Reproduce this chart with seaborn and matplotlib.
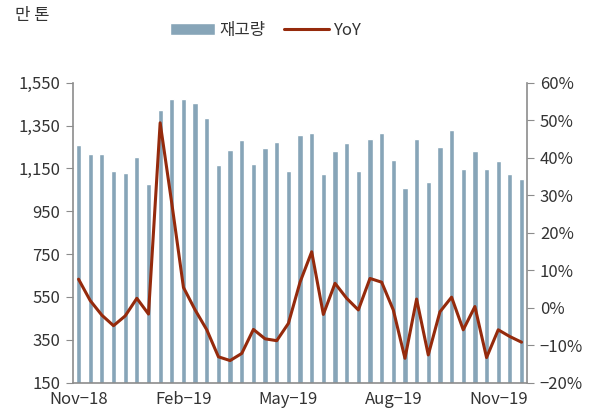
import numpy as np
import pandas as pd
import matplotlib
matplotlib.use("Agg")
import matplotlib.pyplot as plt
import seaborn as sns
from matplotlib.ticker import FuncFormatter, FixedLocator

# inventory (10k tons) and YoY (%)
stock = [1260, 1219, 1216, 1138, 1129, 1203, 1076, 1423, 1473, 1475,
         1457, 1387, 1165, 1236, 1284, 1171, 1247, 1272, 1138, 1304,
         1314, 1124, 1233, 1267, 1138, 1289, 1317, 1188, 1060, 1287,
         1085, 1249, 1329, 1149, 1230, 1149, 1183, 1124, 1102]
yoy = [7.6, 1.9, -2.0, -4.8, -2.2, 2.5, -1.7, 49.3, 27.8, 5.4,
       -0.6, -5.9, -13.1, -14.1, -12.2, -5.8, -8.3, -8.8, -4.2, 6.8,
       14.9, -1.8, 6.5, 2.5, -0.6, 7.8, 6.8, -0.6, -13.5, 2.3,
       -12.6, -1.1, 2.8, -5.9, 0.3, -13.3, -5.9, -7.7, -9.2]
tick_pos = [0, 9, 18, 27, 36]
tick_labels = ["Nov\u221218", "Feb\u221219", "May\u221219", "Aug\u221219", "Nov\u221219"]

df = pd.DataFrame({"idx": np.arange(len(stock)), "stock": stock, "yoy": yoy})

sns.set_style("white")
plt.rcParams["font.family"] = ["Noto Sans CJK KR", "DejaVu Sans"]
plt.rcParams["axes.unicode_minus"] = True

bar_color = "#87A5B8"
line_color = "#952A0C"
axis_color = "#8C8C8C"
text_color = "#333333"

fig = plt.figure(figsize=(5.99, 4.17), dpi=100)
ax = fig.add_axes([0.1214, 0.0823, 0.7590, 0.7194])

sns.barplot(data=df, x="idx", y="stock", color=bar_color, width=0.45,
            saturation=1, ax=ax, label="재고량")
ax.set_ylim(150, 1550)
ax.set_yticks(range(150, 1551, 200))
ax.yaxis.set_major_formatter(FuncFormatter(lambda v, p: f"{int(v):,}"))
ax.set_xlim(-0.5, len(stock) - 0.5)

ax2 = ax.twinx()
sns.lineplot(data=df, x="idx", y="yoy", color=line_color, linewidth=2.2,
             ax=ax2, label="YoY")
ax2.set_ylim(-20, 60)
ax2.set_yticks(range(-20, 61, 10))
ax2.yaxis.set_major_formatter(FuncFormatter(lambda v, p: f"{int(v)}%".replace("-", "\u2212")))
ax2.set_xlim(-0.5, len(stock) - 0.5)

ax.xaxis.set_major_locator(FixedLocator(tick_pos))
ax.set_xticklabels(tick_labels)
ax.xaxis.set_minor_locator(FixedLocator(np.arange(-0.5, len(stock), 1.0)))
ax.tick_params(axis="x", which="major", length=0, pad=6)
ax.tick_params(axis="x", which="minor", length=4, color=axis_color, direction="out")
ax.tick_params(axis="y", length=5, color=axis_color, direction="out", pad=4)
ax2.tick_params(axis="y", length=5, color=axis_color, direction="out", pad=4)

for a in (ax, ax2):
    a.set_xlabel("")
    a.set_ylabel("")
    a.tick_params(labelsize=12, labelcolor=text_color)
    for s in ("left", "right", "bottom"):
        a.spines[s].set_color(axis_color)
        a.spines[s].set_linewidth(1.2)
    a.spines["top"].set_visible(False)
ax.spines["right"].set_visible(False)
ax2.spines["left"].set_visible(False)
ax2.spines["bottom"].set_visible(False)

h1, l1 = ax.get_legend_handles_labels()
h2, l2 = ax2.get_legend_handles_labels()
if ax.get_legend():
    ax.get_legend().remove()
if ax2.get_legend():
    ax2.get_legend().remove()
fig.legend(h1 + h2, l1 + l2, loc="center", bbox_to_anchor=(0.443, 0.927),
           ncol=2, frameon=False, fontsize=12, handlelength=2.7,
           handleheight=0.7, columnspacing=1.1, handletextpad=0.25,
           labelcolor=text_color)

fig.text(0.025, 0.962, "만 톤", fontsize=12, color=text_color, va="center")

fig.savefig("out.png", dpi=100)
